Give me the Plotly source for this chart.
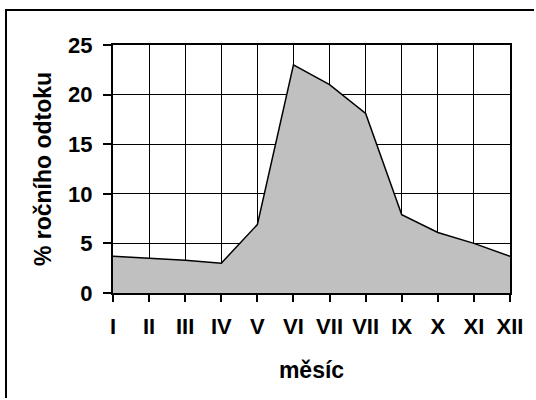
import plotly.graph_objects as go

months = ["I", "II", "III", "IV", "V", "VI", "VII", "VII", "IX", "X", "XI", "XII"]
runoff_pct = [3.7, 3.5, 3.3, 3.0, 6.9, 23.0, 21.0, 18.1, 7.9, 6.1, 5.0, 3.7]
y_ticks = [0, 5, 10, 15, 20, 25]

W, H = 536, 400
L, R, T, B = 113, 26, 45, 107
pw, ph = W - L - R, H - T - B

def px_x(p):
    return (p - L) / pw

def px_y(p):
    return (H - B - p) / ph

def b(s):
    return "<b>" + s + "</b>"

FONT = "Liberation Sans"
xs = list(range(len(months)))

fig = go.Figure()
fig.add_trace(go.Scatter(
    x=xs, y=runoff_pct, mode="lines", fill="tozeroy",
    fillcolor="#C0C0C0", line=dict(color="black", width=1.5),
    hoverinfo="skip", showlegend=False,
))

# outer chart frame: only its left and top edges fall inside the picture
frame = [
    dict(x0=px_x(6), x1=px_x(6), y0=px_y(H - 2), y1=px_y(9)),
    dict(x0=px_x(5), x1=px_x(W - 2), y0=px_y(10), y1=px_y(10)),
]

fig.update_layout(
    width=W, height=H,
    margin=dict(l=L, r=R, t=T, b=B),
    paper_bgcolor="white", plot_bgcolor="white",
    font=dict(family=FONT, color="black", size=22),
    xaxis=dict(
        range=[0, len(months) - 1], tickmode="array", tickvals=xs,
        ticktext=[b(m) for m in months],
        showgrid=True, gridcolor="black", gridwidth=1,
        showline=True, linecolor="black", linewidth=2, mirror=True,
        ticks="outside", ticklen=7, tickwidth=1.5, tickcolor="black",
        ticklabelstandoff=6,
        tickfont=dict(size=22),
        title=dict(text=b("měsíc"), font=dict(size=23), standoff=23),
        zeroline=False, fixedrange=True,
    ),
    yaxis=dict(
        range=[0, 25], tickmode="array", tickvals=y_ticks,
        ticktext=[b(str(v)) for v in y_ticks],
        showgrid=True, gridcolor="black", gridwidth=1,
        showline=True, linecolor="black", linewidth=2, mirror=True,
        ticks="outside", ticklen=8, tickwidth=1.5, tickcolor="black",
        ticklabelstandoff=6,
        tickfont=dict(size=22),
        title=dict(text=b("% ročního odtoku"), font=dict(size=23), standoff=10),
        zeroline=False, fixedrange=True,
    ),
    shapes=[dict(type="line", xref="paper", yref="paper", layer="above",
                 line=dict(color="black", width=2), **f) for f in frame],
)

fig.write_html(
    "out.html",
    config={"displayModeBar": False},
    post_script=("document.documentElement.style.overflow='hidden';"
                 "document.body.style.margin='0';document.body.style.overflow='hidden';"),
)
